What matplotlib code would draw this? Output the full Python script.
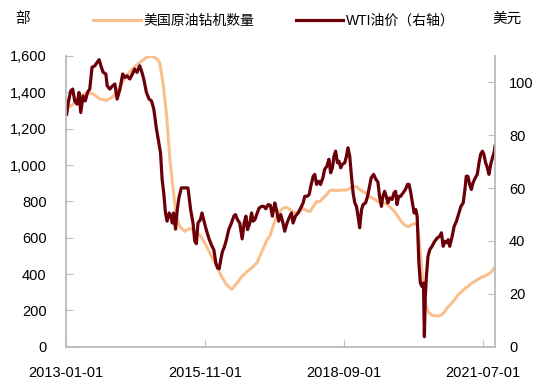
import pandas as pd
import matplotlib
matplotlib.use('Agg')
import matplotlib.pyplot as plt
import matplotlib.dates as mdates
from matplotlib.ticker import FuncFormatter, MultipleLocator

plt.rcParams['font.family'] = ['Liberation Sans', 'Noto Sans CJK SC']

# US crude oil rig count (left axis, units)
rig_dates = ['2013-01-06', '2013-02-24', '2013-04-13', '2013-06-03', '2013-07-21', '2013-09-10',
             '2013-10-30', '2013-12-18', '2014-02-07', '2014-03-26', '2014-05-15', '2014-07-04',
             '2014-08-23', '2014-09-30', '2014-11-06', '2014-11-30', '2014-12-25', '2015-01-20',
             '2015-02-14', '2015-03-09', '2015-04-03', '2015-04-28', '2015-06-04', '2015-07-11',
             '2015-08-18', '2015-09-17', '2015-10-09', '2015-11-16', '2015-12-22', '2016-01-29',
             '2016-03-06', '2016-04-12', '2016-05-19', '2016-06-26', '2016-08-02', '2016-09-09',
             '2016-10-16', '2016-11-23', '2016-12-30', '2017-02-06', '2017-02-28', '2017-03-22',
             '2017-04-17', '2017-05-11', '2017-06-05', '2017-06-30', '2017-07-25', '2017-08-19',
             '2017-09-14', '2017-10-08', '2017-11-02', '2017-11-27', '2017-12-22', '2018-01-16',
             '2018-02-10', '2018-03-05', '2018-03-29', '2018-04-24', '2018-05-18', '2018-06-12',
             '2018-07-08', '2018-08-02', '2018-08-26', '2018-09-21', '2018-10-15', '2018-11-09',
             '2018-12-04', '2018-12-28', '2019-01-23', '2019-02-18', '2019-03-12', '2019-04-06',
             '2019-05-01', '2019-05-25', '2019-07-02', '2019-07-26', '2019-08-21', '2019-09-15',
             '2019-10-10', '2019-11-04', '2019-11-29', '2019-12-23', '2020-01-18', '2020-02-12',
             '2020-03-02', '2020-03-13', '2020-03-26', '2020-04-08', '2020-04-20', '2020-05-03',
             '2020-05-20', '2020-06-15', '2020-07-09', '2020-08-03', '2020-08-28', '2020-09-22',
             '2020-10-17', '2020-11-11', '2020-12-06', '2020-12-30', '2021-01-25', '2021-02-19',
             '2021-03-13', '2021-04-08', '2021-05-02', '2021-05-27', '2021-06-22', '2021-07-16',
             '2021-08-10', '2021-09-05', '2021-10-01']
rig_values = [1310, 1335, 1376, 1396, 1392, 1364,
              1356, 1376, 1431, 1490, 1532, 1564,
              1592, 1600, 1586, 1565, 1450, 1275,
              1030, 870, 716, 662, 635, 650,
              640, 620, 600, 550, 495, 440,
              385, 340, 316, 349, 385, 412,
              434, 462, 524, 588, 610, 660,
              716, 743, 762, 767, 756, 743,
              734, 743, 762, 749, 743, 771,
              798, 798, 817, 835, 859, 862,
              859, 862, 862, 862, 872, 881,
              881, 866, 853, 844, 826, 817,
              805, 795, 789, 780, 762, 743,
              716, 688, 670, 660, 670, 679,
              670, 605, 495, 385, 294, 230,
              193, 174, 171, 169, 174, 193,
              220, 239, 261, 285, 303, 321,
              330, 349, 358, 371, 382, 388,
              399, 412, 440]

# WTI crude price (right axis, USD)
wti_dates = ['2013-01-06', '2013-01-18', '2013-02-05', '2013-02-20', '2013-03-07', '2013-03-24',
             '2013-04-08', '2013-04-21', '2013-05-08', '2013-05-25', '2013-06-10', '2013-06-27',
             '2013-07-14', '2013-08-04', '2013-08-21', '2013-09-05', '2013-09-18', '2013-10-05',
             '2013-10-25', '2013-11-04', '2013-11-24', '2013-12-14', '2013-12-31', '2014-01-17',
             '2014-02-07', '2014-02-27', '2014-03-14', '2014-04-01', '2014-04-21', '2014-05-11',
             '2014-05-28', '2014-06-14', '2014-07-04', '2014-07-21', '2014-08-03', '2014-08-23',
             '2014-09-12', '2014-09-30', '2014-10-17', '2014-11-06', '2014-11-23', '2014-12-06',
             '2014-12-18', '2014-12-30', '2015-01-12', '2015-01-24', '2015-02-09', '2015-02-21',
             '2015-03-04', '2015-03-13', '2015-03-28', '2015-04-10', '2015-04-22', '2015-05-10',
             '2015-06-04', '2015-06-28', '2015-07-06', '2015-07-18', '2015-08-05', '2015-08-18',
             '2015-08-30', '2015-09-11', '2015-09-29', '2015-10-11', '2015-10-26', '2015-11-13',
             '2015-12-01', '2015-12-20', '2016-01-07', '2016-01-22', '2016-02-04', '2016-02-16',
             '2016-02-28', '2016-03-11', '2016-03-23', '2016-04-10', '2016-04-27', '2016-05-17',
             '2016-06-04', '2016-06-16', '2016-07-01', '2016-07-18', '2016-08-05', '2016-08-20',
             '2016-09-02', '2016-09-14', '2016-10-01', '2016-10-14', '2016-10-26', '2016-11-08',
             '2016-11-25', '2016-12-10', '2016-12-27', '2017-01-14', '2017-01-28', '2017-02-15',
             '2017-03-03', '2017-03-18', '2017-04-05', '2017-04-17', '2017-05-04', '2017-05-19',
             '2017-06-05', '2017-06-18', '2017-07-05', '2017-07-20', '2017-08-07', '2017-08-19',
             '2017-09-06', '2017-09-25', '2017-10-15', '2017-11-02', '2017-11-14', '2017-12-02',
             '2017-12-17', '2017-12-29', '2018-01-16', '2018-01-28', '2018-02-10', '2018-02-27',
             '2018-03-12', '2018-03-29', '2018-04-11', '2018-04-28', '2018-05-13', '2018-05-26',
             '2018-06-08', '2018-06-20', '2018-07-02', '2018-07-15', '2018-07-27', '2018-08-09',
             '2018-08-21', '2018-09-08', '2018-09-21', '2018-10-02', '2018-10-15', '2018-10-28',
             '2018-11-09', '2018-11-22', '2018-12-04', '2018-12-16', '2018-12-28', '2019-01-11',
             '2019-01-23', '2019-02-10', '2019-02-25', '2019-03-12', '2019-03-24', '2019-04-11',
             '2019-04-26', '2019-05-13', '2019-05-25', '2019-06-08', '2019-06-19', '2019-07-02',
             '2019-07-14', '2019-07-26', '2019-08-09', '2019-08-26', '2019-09-10', '2019-09-22',
             '2019-10-02', '2019-10-15', '2019-10-29', '2019-11-16', '2019-12-04', '2019-12-19',
             '2019-12-31', '2020-01-13', '2020-01-25', '2020-02-07', '2020-02-19', '2020-02-29',
             '2020-03-06', '2020-03-13', '2020-03-24', '2020-04-05', '2020-04-16', '2020-04-23',
             '2020-04-30', '2020-05-08', '2020-05-20', '2020-06-02', '2020-06-19', '2020-07-09',
             '2020-07-29', '2020-08-16', '2020-08-28', '2020-09-10', '2020-09-22', '2020-10-05',
             '2020-10-17', '2020-10-29', '2020-11-16', '2020-12-01', '2020-12-18', '2021-01-05',
             '2021-01-20', '2021-02-06', '2021-02-19', '2021-03-01', '2021-03-13', '2021-03-26',
             '2021-04-08', '2021-04-20', '2021-05-07', '2021-05-22', '2021-06-04', '2021-06-16',
             '2021-06-29', '2021-07-10', '2021-07-23', '2021-08-05', '2021-08-17', '2021-08-30',
             '2021-09-12', '2021-09-24', '2021-10-01']
wti_values = [88.0, 92.4, 96.8, 97.5, 93.0, 91.8,
              96.2, 88.6, 94.9, 93.0, 96.2, 97.5,
              105.7, 106.3, 107.6, 108.6, 106.3, 103.8,
              103.2, 98.7, 97.5, 98.7, 99.4, 93.7,
              97.5, 103.2, 101.9, 102.5, 101.3, 103.2,
              105.1, 103.8, 106.3, 103.8, 101.3, 96.2,
              93.7, 93.0, 89.9, 82.3, 77.2, 73.4,
              63.3, 58.2, 50.6, 47.5, 50.6, 49.4,
              46.8, 50.6, 44.5, 52.0, 56.3, 60.1,
              60.1, 60.1, 57.0, 51.9, 46.8, 40.0,
              39.0, 46.8, 48.1, 50.6, 47.5, 44.0,
              41.0, 38.5, 36.7, 31.7, 29.8, 29.5,
              33.0, 36.0, 37.4, 40.5, 44.3, 46.8,
              49.4, 50.0, 48.1, 46.8, 40.8, 46.8,
              49.4, 44.3, 46.8, 50.6, 47.5, 48.1,
              50.6, 52.5, 53.1, 53.1, 52.2, 53.8,
              53.5, 49.4, 54.4, 51.9, 47.5, 50.0,
              46.8, 43.7, 46.8, 48.7, 50.6, 46.8,
              49.4, 50.6, 52.5, 54.4, 56.9, 56.9,
              57.6, 60.7, 64.5, 65.2, 61.4, 62.6,
              61.4, 63.9, 67.1, 68.3, 70.9, 65.8,
              67.7, 72.1, 74.0, 69.6, 70.2, 67.7,
              69.0, 69.6, 72.1, 75.3, 72.1, 64.5,
              58.2, 54.4, 53.1, 49.4, 45.0, 51.9,
              53.8, 54.4, 56.9, 60.7, 63.9, 65.2,
              63.5, 62.3, 56.9, 53.1, 56.9, 58.8,
              56.9, 54.4, 56.3, 55.7, 58.2, 58.8,
              53.8, 56.9, 56.9, 58.2, 59.5, 61.4,
              61.4, 58.2, 54.4, 50.6, 51.9, 49.4,
              41.8, 31.7, 24.1, 22.8, 24.1, 3.8,
              19.0, 26.6, 34.2, 36.7, 38.0, 39.9,
              41.2, 41.8, 43.1, 38.0, 39.9, 39.3,
              40.5, 38.0, 41.8, 45.6, 47.5, 50.6,
              53.1, 54.4, 59.5, 64.5, 64.5, 61.4,
              59.5, 62.0, 63.9, 65.2, 69.6, 72.8,
              74.0, 72.8, 69.6, 67.7, 65.2, 69.0,
              71.5, 73.4, 75.9]

tick_dates = ['2013-01-01', '2015-11-01', '2018-09-01', '2021-07-01']

rig_color = '#F9C08E'
wti_color = '#6B0008'
axis_grey = '#BFBFBF'

fig = plt.figure(figsize=(5.48, 3.87), dpi=100)
ax = fig.add_axes([0.1204, 0.1041, 0.7829, 0.7512])
ax2 = ax.twinx()

l1, = ax.plot(pd.to_datetime(rig_dates), rig_values, color=rig_color, lw=2.2,
              label='美国原油钻机数量')
l2, = ax2.plot(pd.to_datetime(wti_dates), wti_values, color=wti_color, lw=2.3,
               label='WTI油价（右轴）')

ax.set_xlim(pd.Timestamp('2013-01-01'), pd.Timestamp('2021-10-01'))
ax.set_ylim(0, 1600)
ax2.set_ylim(0, 110)
ax.yaxis.set_major_locator(MultipleLocator(200))
ax.yaxis.set_major_formatter(FuncFormatter(lambda v, p: f'{int(v):,}'))
ax2.set_yticks([0, 20, 40, 60, 80, 100])

ax.set_xticks(pd.to_datetime(tick_dates))
ax.xaxis.set_major_formatter(mdates.DateFormatter('%Y-%m-%d'))

for a in (ax, ax2):
    a.spines['top'].set_visible(False)
    for s in ('left', 'right', 'bottom'):
        a.spines[s].set_color(axis_grey)
        a.spines[s].set_linewidth(1.2)
ax.tick_params(axis='y', direction='in', length=5, color=axis_grey, labelsize=10.5, pad=14)
ax.tick_params(axis='x', direction='in', length=5, color=axis_grey, labelsize=10.5, pad=14)
ax2.tick_params(axis='y', direction='in', length=5, color=axis_grey, labelsize=10.5, pad=10)

fig.text(0.027, 0.952, '部', fontsize=10.5, va='center', ha='left')
fig.text(0.898, 0.952, '美元', fontsize=10.5, va='center', ha='left')

fig.legend(handles=[l1, l2], loc='center', bbox_to_anchor=(0.50, 0.946), ncol=2,
           frameon=False, fontsize=10, handlelength=3.4, handletextpad=0.2,
           columnspacing=3.0, borderaxespad=0)

fig.savefig('out.png', dpi=100)
